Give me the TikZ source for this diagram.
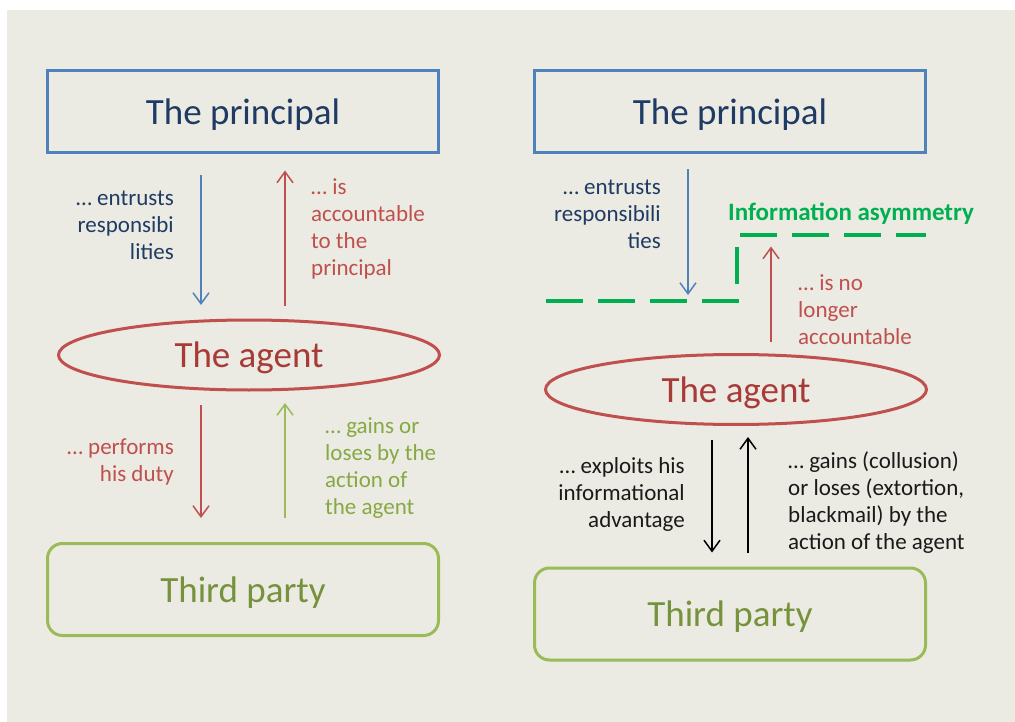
\documentclass[tikz,border=0pt]{standalone}
\usepackage{fontspec}
\setmainfont{Carlito}
\usetikzlibrary{arrows.meta, positioning, shapes.geometric}

\definecolor{bgcol}{HTML}{EBEBE3}
\definecolor{pblue}{HTML}{4F81BD}
\definecolor{navy}{HTML}{1F3B63}
\definecolor{ared}{HTML}{C0504D}
\definecolor{atext}{HTML}{A83B38}
\definecolor{tgreen}{HTML}{9BBB59}
\definecolor{tgtext}{HTML}{76923C}
\definecolor{lgtext}{HTML}{86A943}
\definecolor{infogreen}{HTML}{00B050}
\definecolor{dark}{HTML}{1A1A1A}

\begin{document}
\begin{tikzpicture}[x=1pt, y=-1pt,
    big/.style={font=\fontsize{37}{44}\selectfont, text depth=0pt},
    small/.style={font=\fontsize{23}{27}\selectfont, inner sep=0pt},
    pbox/.style={big, draw=pblue, line width=3pt, text=navy, minimum width=391pt, minimum height=82pt},
    agent/.style={big, ellipse, draw=ared, line width=3pt, text=atext, minimum width=381pt, minimum height=70pt},
    tbox/.style={big, draw=tgreen, line width=3pt, rounded corners=15pt, text=tgtext, minimum width=391pt, minimum height=92pt},
    arr/.style={-{Straight Barb[length=11pt, width=16pt]}, line width=1.5pt}]
    % Background
    \useasboundingbox (0,0) rectangle (1015,722);
    \fill[white] (0,0) rectangle (1015,722);
    \fill[bgcol] (7,10) rectangle (1015,722);

    % Left: principal, agent, third party
    \node[pbox] (pl) at (243,111.5) {The principal};
    \node[agent] (al) at (249,355) {The agent};
    \node[tbox] (tl) at (243,589.5) {Third party};

    \draw[arr, pblue, shorten <=21.5pt, shorten >=13.5pt] ([xshift=-42pt]pl.south) -- ([xshift=-48pt]al.north);
    \draw[arr, ared, shorten <=12.5pt, shorten >=16.5pt] ([xshift=36pt]al.north) -- ([xshift=42pt]pl.south);
    \draw[arr, ared, shorten <=13.5pt, shorten >=24pt] ([xshift=-48pt]al.south) -- ([xshift=-42pt]tl.north);
    \draw[arr, tgreen, shorten <=24pt, shorten >=11.5pt] ([xshift=42pt]tl.north) -- ([xshift=36pt]al.south);

    \node[small, text=navy, align=right, anchor=east] (entl) at (174,225) {… entrusts\\responsibi\\lities};
    \node[small, text=ared, align=left, anchor=west] (accl) at (311,228.5) {… is\\accountable\\to the\\principal};
    \node[small, text=ared, align=right, anchor=east] (dutyl) at (174,461.5) {… performs\\his duty};
    \node[small, text=lgtext, align=left, anchor=west] (gainl) at (325,468.5) {… gains or\\loses by the\\action of\\the agent};

    % Right: with information asymmetry
    \node[pbox] (pr) at (730,111.5) {The principal};
    \node[agent] (ar) at (736,389.5) {The agent};
    \node[tbox] (tr) at (730,614) {Third party};

    \draw[line width=4.5pt, infogreen, dash pattern=on 37pt off 15pt] (546,301) -- (737,301) -- (737,235) -- (926,235);
    \node[small, font=\fontsize{25}{27}\selectfont\bfseries, text=infogreen, anchor=west] (info) at (728,214) {Information asymmetry};

    \draw[arr, pblue, shorten <=15.5pt, shorten >=58pt] ([xshift=-42pt]pr.south) -- ([xshift=-48pt]ar.north);
    \draw[arr, ared, shorten <=11pt, shorten >=92.5pt] ([xshift=35pt]ar.north) -- ([xshift=41pt]pr.south);
    \draw[arr, black, shorten <=14pt, shorten >=14pt] ([xshift=-24pt]ar.south) -- ([xshift=-18pt]tr.north);
    \draw[arr, black, shorten <=14pt, shorten >=11pt] ([xshift=18pt]tr.north) -- ([xshift=12pt]ar.south);

    \node[small, text=navy, align=right, anchor=east] (entr) at (661,214) {… entrusts\\responsibili\\ties};
    \node[small, text=ared, align=left, anchor=west] (accr) at (798,310) {… is no\\longer\\accountable};
    \node[small, text=dark, align=right, anchor=east] (expr) at (685,494) {… exploits his\\informational\\advantage};
    \node[small, text=dark, align=left, anchor=west] (gainr) at (788,503) {… gains (collusion)\\or loses (extortion,\\blackmail) by the\\action of the agent};
\end{tikzpicture}
\end{document}
